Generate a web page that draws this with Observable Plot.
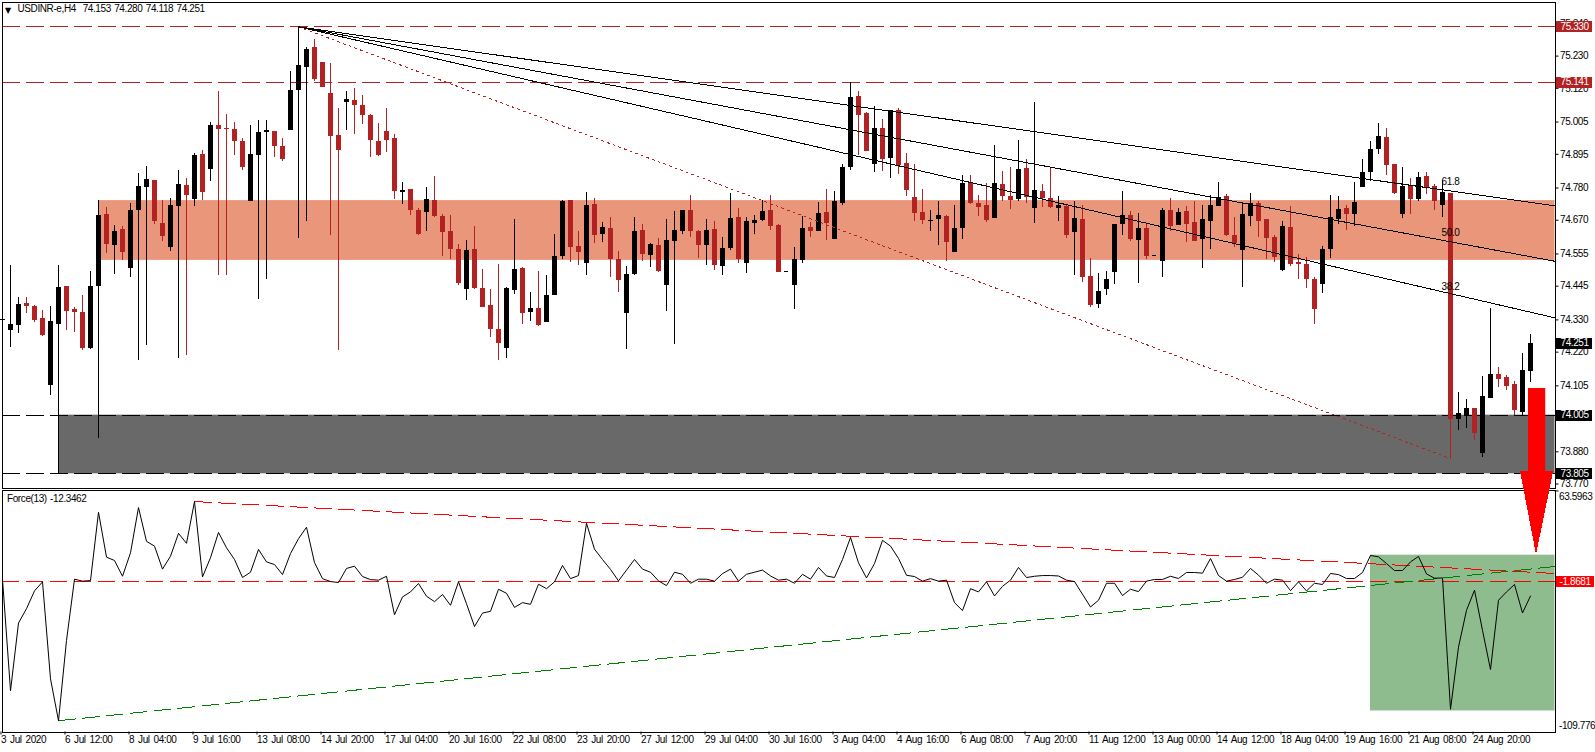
<!DOCTYPE html>
<html><head><meta charset="utf-8">
<script src="https://cdn.jsdelivr.net/npm/d3@7"></script>
<script src="https://cdn.jsdelivr.net/npm/@observablehq/plot@0.6"></script>
<style>
html,body{margin:0;padding:0;background:#fff;overflow:hidden;width:1595px;height:752px}
#chart{position:relative;width:1595px;height:752px}
#chart svg{position:absolute;left:0;top:0;max-width:none;letter-spacing:-0.4px;word-spacing:1px}
#chart g[aria-label="x-axis tick label"]{word-spacing:1.5px}
</style></head><body><div id="chart"></div>
<script>
const opens=[74.328,74.294,74.311,74.386,74.375,74.335,74.106,74.314,74.444,74.365,
74.355,74.233,74.444,74.689,74.584,74.639,74.506,74.703,74.782,74.806,
74.659,74.577,74.717,74.789,74.741,74.894,74.843,74.993,74.983,74.979,
74.938,74.734,74.891,74.969,74.973,74.922,74.976,75.113,75.191,75.259,
75.208,75.103,74.959,75.072,75.079,75.061,75.027,74.938,74.973,74.949,
74.765,74.775,74.703,74.696,74.737,74.683,74.631,74.570,74.433,74.570,
74.437,74.379,74.297,74.233,74.430,74.506,74.355,74.369,74.321,74.413,
74.546,74.737,74.580,74.523,74.723,74.621,74.642,74.536,74.352,74.485,
74.635,74.550,74.584,74.447,74.598,74.631,74.703,74.631,74.584,74.639,
74.512,74.574,74.679,74.523,74.659,74.669,74.703,74.652,74.495,74.447,
74.533,74.645,74.631,74.696,74.604,74.727,74.850,75.092,75.034,74.860,
74.983,74.881,75.044,74.864,74.748,74.696,74.666,74.672,74.683,74.560,
74.642,74.799,74.727,74.720,74.676,74.792,74.751,74.741,74.847,74.710,
74.768,74.744,74.710,74.717,74.628,74.672,74.478,74.382,74.433,74.492,
74.655,74.686,74.601,74.642,74.550,74.529,74.703,74.652,74.700,74.662,
74.604,74.666,74.717,74.751,74.618,74.567,74.683,74.727,74.672,74.611,
74.499,74.645,74.526,74.519,74.468,74.451,74.570,74.672,74.710,74.689,
74.782,74.833,74.911,74.952,74.860,74.689,74.789,74.741,74.819,74.785,
74.720,74.761,73.990,74.001,74.028,73.874,74.062,74.144,74.133,74.110,
74.014,74.153];
const highs=[74.331,74.516,74.406,74.406,74.379,74.362,74.375,74.516,74.444,74.372,
74.413,74.495,74.737,74.713,74.652,74.649,74.727,74.830,74.854,74.806,
74.737,74.744,74.840,74.813,74.898,74.908,75.003,75.109,75.031,75.003,
74.949,74.993,75.010,75.010,74.973,74.949,75.177,75.330,75.259,75.286,
75.208,75.205,75.051,75.109,75.120,75.096,75.031,75.000,75.051,74.962,
74.799,74.775,74.710,74.782,74.819,74.689,74.686,74.587,74.601,74.649,
74.502,74.433,74.519,74.440,74.672,74.509,74.423,74.495,74.482,74.621,
74.737,74.737,74.631,74.765,74.744,74.662,74.679,74.563,74.512,74.679,
74.655,74.590,74.608,74.672,74.700,74.703,74.754,74.635,74.672,74.666,
74.611,74.761,74.710,74.679,74.686,74.737,74.754,74.655,74.495,74.577,
74.683,74.662,74.730,74.775,74.768,74.860,75.140,75.109,75.037,75.058,
75.014,75.044,75.051,74.898,74.860,74.775,74.703,74.734,74.686,74.720,
74.823,74.823,74.754,74.795,74.925,74.836,74.850,74.942,74.877,75.072,
74.792,74.850,74.751,74.723,74.734,74.720,74.540,74.489,74.495,74.655,
74.768,74.700,74.693,74.655,74.550,74.710,74.744,74.710,74.717,74.734,
74.720,74.754,74.799,74.758,74.679,74.727,74.761,74.734,74.672,74.618,
74.666,74.717,74.553,74.543,74.475,74.580,74.754,74.751,74.720,74.799,
74.877,74.938,75.000,74.983,74.860,74.850,74.813,74.833,74.833,74.792,
74.806,74.761,74.082,74.058,74.028,74.137,74.369,74.167,74.140,74.120,
74.216,74.280];
const lows=[74.328,74.236,74.284,74.352,74.321,74.273,74.072,73.806,74.294,74.287,
74.226,74.229,73.926,74.557,74.485,74.533,74.475,74.191,74.243,74.655,
74.598,74.563,74.198,74.209,74.717,74.737,74.802,74.482,74.482,74.891,
74.840,74.734,74.399,74.468,74.884,74.870,74.976,74.608,74.666,75.143,
75.123,74.618,74.226,74.976,74.962,74.997,74.884,74.887,74.901,74.741,
74.723,74.686,74.618,74.631,74.679,74.546,74.536,74.447,74.396,74.433,
74.372,74.270,74.191,74.198,74.416,74.314,74.325,74.307,74.321,74.413,
74.536,74.526,74.516,74.482,74.590,74.594,74.475,74.423,74.229,74.482,
74.529,74.509,74.492,74.359,74.246,74.621,74.611,74.540,74.516,74.499,
74.482,74.567,74.523,74.489,74.621,74.666,74.635,74.492,74.495,74.365,
74.523,74.611,74.631,74.601,74.604,74.720,74.840,74.891,74.904,74.833,
74.836,74.813,74.826,74.751,74.666,74.655,74.631,74.584,74.529,74.560,
74.604,74.723,74.683,74.662,74.676,74.734,74.707,74.734,74.727,74.659,
74.713,74.710,74.666,74.608,74.482,74.457,74.372,74.369,74.413,74.451,
74.618,74.598,74.454,74.536,74.550,74.475,74.631,74.652,74.594,74.598,
74.506,74.570,74.717,74.615,74.577,74.440,74.649,74.611,74.536,74.526,
74.495,74.512,74.468,74.437,74.314,74.420,74.540,74.655,74.635,74.649,
74.782,74.802,74.894,74.823,74.758,74.676,74.689,74.734,74.758,74.703,
74.679,73.857,73.953,73.960,73.918,73.860,74.062,74.099,74.089,74.004,
74.004,74.118];
const closes=[74.331,74.314,74.382,74.375,74.328,74.277,74.325,74.440,74.359,74.355,
74.233,74.444,74.686,74.587,74.631,74.560,74.703,74.785,74.809,74.666,
74.615,74.720,74.792,74.754,74.891,74.765,74.993,74.979,74.979,74.938,
74.850,74.894,74.969,74.976,74.922,74.877,75.113,75.198,75.252,75.150,
75.123,74.956,74.908,75.082,75.061,75.027,74.942,74.891,74.942,74.768,
74.771,74.703,74.621,74.741,74.683,74.628,74.570,74.454,74.567,74.437,
74.372,74.297,74.250,74.437,74.502,74.352,74.369,74.311,74.413,74.546,
74.734,74.577,74.560,74.720,74.618,74.645,74.536,74.464,74.485,74.631,
74.553,74.587,74.495,74.601,74.635,74.703,74.631,74.584,74.635,74.516,
74.574,74.676,74.536,74.666,74.669,74.700,74.649,74.492,74.495,74.536,
74.642,74.631,74.693,74.659,74.734,74.850,75.089,75.027,74.904,74.983,
74.877,75.044,74.857,74.771,74.693,74.669,74.669,74.686,74.594,74.642,
74.795,74.727,74.713,74.669,74.795,74.751,74.737,74.843,74.748,74.771,
74.744,74.713,74.720,74.618,74.676,74.475,74.379,74.427,74.468,74.655,
74.686,74.604,74.642,74.546,74.550,74.703,74.649,74.696,74.655,74.598,
74.672,74.720,74.748,74.618,74.590,74.689,74.727,74.666,74.608,74.543,
74.649,74.519,74.519,74.468,74.365,74.570,74.679,74.707,74.689,74.730,
74.833,74.911,74.956,74.857,74.761,74.785,74.741,74.816,74.782,74.734,
74.765,73.990,74.011,74.028,73.942,74.069,74.144,74.126,74.103,74.021,
74.157,74.251];
const force=[-0.3,-80.2,-31.7,-21.4,-8.7,-2.2,-71.7,-101.7,-44.2,-0.3,
-1.7,-1.3,47.6,15.5,13.1,1.8,18.6,51.0,26.8,23.4,
6.9,16.2,32.5,25.4,55.3,1.3,15.1,33.2,22.2,13.8,
0.9,4.7,21.0,12.1,10.2,3.0,18.1,28.7,36.9,11.6,
0.1,-2.0,-2.7,7.4,9.0,1.6,-0.6,-1.0,1.8,-25.8,
-13.0,-9.4,-3.4,-12.5,-16.4,-11.3,-19.0,-2.2,-17.9,-34.2,
-24.6,-23.3,-7.5,-10.4,-20.5,-17.1,-18.3,-3.9,-7.1,-2.2,
9.5,0.1,2.3,39.7,21.2,13.8,6.7,-1.5,6.2,13.8,
6.9,4.7,-1.5,-4.9,4.7,3.2,-3.2,-0.3,-0.3,-1.7,
3.7,6.9,-1.7,3.2,4.7,6.2,2.0,-1.0,-0.3,-3.2,
3.2,-0.3,8.1,2.0,0.9,13.8,29.6,11.4,0.6,10.9,
27.5,23.4,14.6,2.5,1.6,-1.7,0.1,-1.7,-1.0,-17.1,
-22.8,-7.1,-9.4,-2.2,-12.3,-5.4,-1.0,8.1,0.9,1.8,
2.3,2.3,2.0,-1.0,-2.0,-11.1,-20.2,-15.4,-3.2,-3.2,
-12.0,-7.5,-9.2,-1.7,-0.5,-0.5,1.8,0.2,4.5,4.5,
4.0,14.5,2.3,-1.7,-0.5,1.1,7.4,2.6,-3.2,-0.3,
-1.0,-8.5,-2.2,-8.7,-3.2,-4.1,3.8,3.0,0.2,0.2,
4.5,16.7,15.7,10.9,5.9,5.9,12.1,16.0,3.5,0.4,
0.6,-93.5,-48.9,-22.6,-8.2,-37.0,-65.0,-15.4,-9.4,-4.1,
-24.5,-12.3462];
const dateLabels=["3 Jul 2020","6 Jul 12:00","8 Jul 04:00","9 Jul 16:00","13 Jul 08:00","14 Jul 20:00","17 Jul 04:00","20 Jul 16:00","22 Jul 08:00","23 Jul 20:00","27 Jul 12:00","29 Jul 04:00","30 Jul 16:00","3 Aug 04:00","4 Aug 16:00","6 Aug 08:00","7 Aug 20:00","11 Aug 12:00","13 Aug 00:00","14 Aug 12:00","18 Aug 04:00","19 Aug 16:00","21 Aug 08:00","24 Aug 20:00"];
const priceTicks=[75.34,75.23,75.12,75.005,74.895,74.78,74.67,74.555,74.445,74.33,74.22,74.105,73.995,73.88,73.77];
const redLevels=[75.33,75.141];
const blackLevels=[74.005,73.805];
const blackLabels=[74.251,74.005,73.805];
const resistanceZone={top:74.737,bottom:74.533,from:12.1};
const supportZone={top:74.005,bottom:73.805,from:7};
const swing={fromBar:37,fromPrice:75.33,toBar:181,toPrice:73.857};
const fibNames=["38.2","50.0","61.8"];
const fibAtSwingEnd=[74.41,74.594,74.768];
const fibAtRightEdge=[74.337,74.53,74.719];
const forceLevel=-1.8681;
const forceRange=[-109.776,63.5963];
const forceResistance=[[24,55.3],[194.0625,3.8]];
const forceSupport=[[7,-101.7],[194.0625,8.8]];
const greenZone={from:171,top:16.9,bottom:-94.7};
const arrowShaft={x1:190.75,x2:192.9,top:74.096,bottom:73.813};
const arrowHeadBars=[189.75,191.75,193.9];
const arrowHeadPrices=[73.813,73.528,73.813];

const FONT='"Liberation Sans", Arial, sans-serif';
const RED="#b22222";
const xDomain=[-0.0625,194.0625];
const rightEdge=xDomain[1];
const candles=opens.map((o,i)=>({i,o,h:highs[i],l:lows[i],c:closes[i],col:closes[i]>=o?"#000":RED}));
const crisp={shapeRendering:"crispEdges"};
const common={width:1595,height:752,marginLeft:1.5,marginRight:40.5,
  style:{background:"transparent",fontFamily:FONT,fontSize:"10px",color:"#000"}};

const fanLines=fibNames.flatMap((n,k)=>[
  {k,i:swing.fromBar,p:swing.fromPrice},{k,i:rightEdge,p:fibAtRightEdge[k]}]);

function tag(values,fill){
  return [
    Plot.ruleY(values,{x1:194.25,x2:198.75,strokeWidth:11,stroke:fill,...crisp}),
    Plot.text(values,{x:194.25,y:d=>d,dx:4,text:d=>d.toFixed(3),fill:"#fff",textAnchor:"start"})
  ];
}

const forcePlot=Plot.plot({...common,marginTop:489.5,marginBottom:20.5,
  x:{domain:xDomain},
  y:{domain:forceRange,axis:null},
  marks:[
    Plot.rect([greenZone],{x1:"from",x2:()=>rightEdge,y1:"bottom",y2:"top",fill:"#8fbc8f"}),
    Plot.ruleY([forceLevel],{stroke:"#ff0000",strokeDasharray:"17,7",...crisp}),
    Plot.line(forceResistance,{x:"0",y:"1",stroke:"#ff0000",strokeWidth:1,strokeDasharray:"17,7",...crisp}),
    Plot.line(forceSupport,{x:"0",y:"1",stroke:"#008000",strokeWidth:1,strokeDasharray:"17,7",...crisp}),
    Plot.line(force,{x:(d,i)=>i,y:d=>d,stroke:"#000",strokeWidth:1}),
    Plot.frame({stroke:"#000",...crisp}),
    Plot.axisX({ticks:dateLabels.map((_,k)=>k*8),tickFormat:d=>dateLabels[d/8],tickSize:3,tickPadding:1,
      textAnchor:"start",dx:-1.5,label:null}),
    Plot.ruleY([62.9],{x1:rightEdge,x2:rightEdge+0.5}),
    Plot.text([forceRange[1]],{x:rightEdge,y:d=>d,dx:4,dy:6.5,text:d=>d.toFixed(4),textAnchor:"start"}),
    Plot.text([forceRange[0]],{x:rightEdge,y:d=>d,dx:4,dy:-6.5,text:d=>d.toFixed(3),textAnchor:"start"}),
    Plot.ruleY([forceLevel],{x1:194.25,x2:199,strokeWidth:11,stroke:"#ff0000",...crisp}),
    Plot.text([forceLevel],{x:194.25,y:d=>d,dx:3,text:d=>d.toFixed(4),fill:"#fff",textAnchor:"start"}),
    Plot.text(["Force(13) "+force[force.length-1].toFixed(4)],{frameAnchor:"top-left",dx:5,dy:5,lineAnchor:"top"})
  ]});

const last=candles[candles.length-1];
const mainPlot=Plot.plot({...common,marginTop:1.5,marginBottom:264.5,
  x:{domain:xDomain,axis:null},
  y:{domain:[73.7565,75.4146]},
  marks:[
    Plot.rect([resistanceZone],{x1:"from",x2:()=>rightEdge,y1:"bottom",y2:"top",fill:"#e9967a"}),
    Plot.rect([supportZone],{x1:"from",x2:()=>rightEdge,y1:"bottom",y2:"top",fill:"#696969"}),
    Plot.ruleY(redLevels,{stroke:RED,strokeDasharray:"18,6",...crisp}),
    Plot.ruleY(blackLevels,{stroke:"#000",strokeDasharray:"18,6",...crisp}),
    Plot.ruleX([supportZone],{x:"from",y1:"bottom",y2:"top",stroke:"#000",...crisp}),
    Plot.ruleX(candles,{x:"i",y1:"l",y2:"h",stroke:"col",strokeWidth:1,...crisp}),
    Plot.ruleX(candles,{x:"i",y1:"o",y2:"c",stroke:"col",strokeWidth:5,...crisp}),
    Plot.ruleY(candles.filter(d=>Math.abs(d.o-d.c)<0.0035),{y:"c",x1:d=>d.i-0.3,x2:d=>d.i+0.3,stroke:"col",...crisp}),
    Plot.line([[swing.fromBar,swing.fromPrice],[swing.toBar,swing.toPrice]],{x:"0",y:"1",stroke:RED,strokeWidth:1,strokeDasharray:"2,4",...crisp}),
    Plot.line(fanLines,{x:"i",y:"p",z:"k",stroke:"#000",strokeWidth:1,...crisp}),
    Plot.text(fibNames,{x:()=>swing.toBar,y:(d,k)=>fibAtSwingEnd[k],dy:-10,text:d=>d,fill:"#000"}),
    Plot.frame({stroke:"#000",...crisp}),
    Plot.axisY({anchor:"right",ticks:priceTicks,tickFormat:d=>d.toFixed(3),tickSize:3,tickPadding:2,label:null,textAnchor:"start"}),
    ...tag(redLevels,RED),
    ...tag(blackLabels,"#000"),
    Plot.rect([arrowShaft],{x1:"x1",x2:"x2",y1:"bottom",y2:"top",fill:"#ff0000"}),
    Plot.areaY(arrowHeadBars.map((x,k)=>({x,y:arrowHeadPrices[k]})),{x:"x",y1:()=>arrowHeadPrices[0],y2:"y",fill:"#ff0000",...crisp}),
    Plot.text(["\u25BC"],{frameAnchor:"top-left",dx:3,dy:5,lineAnchor:"top",fontSize:8,fontFamily:'"DejaVu Sans"'}),
    Plot.text([`USDINR-e,H4\u00a0\u00a0${last.o.toFixed(3)} ${last.h.toFixed(3)} ${last.l.toFixed(3)} ${last.c.toFixed(3)}`],{frameAnchor:"top-left",dx:15.5,dy:3,lineAnchor:"top"})
  ]});

const root=document.getElementById("chart");
root.appendChild(forcePlot);
root.appendChild(mainPlot);
</script></body></html>
